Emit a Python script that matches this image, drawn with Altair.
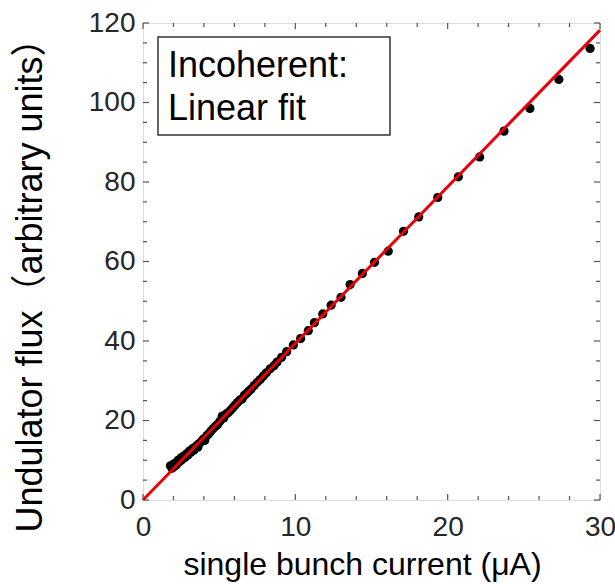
import altair as alt
import pandas as pd

# measured data (single bunch current in uA, undulator flux in a.u.)
current = [1.8, 1.9, 2.0, 2.05, 2.15, 2.2, 2.3, 2.4, 2.5, 2.55, 2.65, 2.75, 2.85, 2.95,
           3.05, 3.15, 3.25, 3.35, 3.5, 3.6, 3.7, 3.85, 3.95, 4.05, 4.2, 4.3, 4.45, 4.6,
           4.75, 4.9, 5.05, 5.2, 5.3, 5.45, 5.6, 5.75, 5.9, 6.05, 6.2, 6.35, 6.5, 6.65,
           6.8, 6.95, 7.1, 7.3, 7.5, 7.7, 7.9, 8.1, 8.35, 8.6, 8.8, 9.1, 9.43, 9.87,
           10.35, 10.85, 11.25, 11.8, 12.35, 13.0, 13.6, 14.4, 15.2, 16.1, 17.1, 18.1,
           19.35, 20.7, 22.1, 23.7, 25.4, 27.3, 29.35]
flux = [8.6, 8.0, 9.0, 8.4, 9.3, 8.9, 10.0, 9.6, 10.6, 10.1, 11.0, 10.7, 11.6, 11.3,
        12.3, 12.0, 12.9, 12.6, 13.6, 13.3, 14.2, 14.8, 15.3, 15.0, 16.2, 16.6, 17.3, 17.9,
        18.5, 19.0, 19.8, 21.1, 20.6, 21.6, 22.0, 22.6, 23.2, 23.9, 24.5, 25.1, 25.4, 26.3,
        26.8, 27.4, 27.9, 28.8, 29.6, 30.3, 31.2, 32.0, 33.0, 33.8, 34.7, 35.9, 37.3, 39.0,
        40.6, 42.6, 44.6, 46.8, 49.0, 51.0, 54.2, 57.0, 59.8, 62.6, 67.6, 71.2,
        76.1, 81.3, 86.3, 92.8, 98.5, 105.8, 113.6]

# linear fit endpoints
fit_x = [0, 30]
fit_y = [0, 118.2]

# tick values
x_major = [0, 10, 20, 30]
x_minor = [2, 4, 6, 8, 12, 14, 16, 18, 22, 24, 26, 28]
y_major = [0, 20, 40, 60, 80, 100, 120]
y_minor = [5, 10, 15, 25, 30, 35, 45, 50, 55, 65, 70, 75, 85, 90, 95, 105, 110, 115]

legend_lines = ["Incoherent:", "Linear fit"]

W, H = 457, 477
FONT = "Liberation Sans, Arial, Noto Sans CJK SC"

xscale = alt.Scale(domain=[0, 30], nice=False, zero=False)
yscale = alt.Scale(domain=[0, 120], nice=False)

df = pd.DataFrame({"current": current, "flux": flux})
fit = pd.DataFrame({"current": fit_x, "flux": fit_y})

x_enc = alt.X("current:Q", scale=xscale,
              axis=alt.Axis(values=x_major, ticks=False, domain=False, grid=False,
                            labelFontSize=28, labelColor="#262626", labelFont=FONT,
                            labelPadding=13, labelFlush=False,
                            title="single bunch current (μA)", titleFontSize=32,
                            titleFont=FONT, titleFontWeight="normal", titleColor="black",
                            titleBaseline="alphabetic", titleX=219, titleY=74))
y_enc = alt.Y("flux:Q", scale=yscale,
              axis=alt.Axis(values=y_major, ticks=False, domain=False, grid=False,
                            labelFontSize=28, labelColor="#262626", labelFont=FONT,
                            labelPadding=8, labelFlush=False,
                            title="Undulator flux（arbitrary units）", titleFontSize=36,
                            titleFont=FONT, titleFontWeight="normal", titleColor="black",
                            titleAngle=-90, titleBaseline="alphabetic", titleAlign="center",
                            titleX=-102, titleY=253))

points = alt.Chart(df).mark_circle(size=85, color="black", opacity=1).encode(x=x_enc, y=y_enc)

line = alt.Chart(fit).mark_line(color="#e8000b", strokeWidth=3).encode(x=x_enc, y=y_enc)


def tick_layers(vals, field, length):
    base = alt.Chart(pd.DataFrame({field: vals})).mark_rule(color="#555555", strokeWidth=1.2)
    if field == "current":
        return [base.encode(x=x_enc, y=alt.value(H), y2=alt.value(H - length)),
                base.encode(x=x_enc, y=alt.value(0), y2=alt.value(length))]
    return [base.encode(y=y_enc, x=alt.value(0), x2=alt.value(length)),
            base.encode(y=y_enc, x=alt.value(W), x2=alt.value(W - length))]


ticks = (tick_layers(x_major, "current", 6) + tick_layers(x_minor, "current", 4)
         + tick_layers(y_major, "flux", 6) + tick_layers(y_minor, "flux", 4))

box = alt.Chart(pd.DataFrame({"a": [0]})).mark_rect(
    fill="white", stroke="#333333", strokeWidth=1.5).encode(
    x=alt.value(15), x2=alt.value(247), y=alt.value(14), y2=alt.value(112))

legend_layers = []
for txt, ypos in zip(legend_lines, [54, 97]):
    legend_layers.append(
        alt.Chart(pd.DataFrame({"t": [txt]})).mark_text(
            align="left", baseline="alphabetic", fontSize=36, font=FONT, color="black"
        ).encode(text="t:N", x=alt.value(25), y=alt.value(ypos)))

chart = alt.layer(points, line, *ticks, box, *legend_layers).properties(
    width=W, height=H,
    autosize=alt.AutoSizeParams(type="none"),
    padding={"left": 143, "top": 23, "right": 15, "bottom": 84},
).configure_view(stroke="#555555", strokeWidth=1.5).configure(background="white")

chart.save("out.html", embed_options={"renderer": "svg", "actions": False})
